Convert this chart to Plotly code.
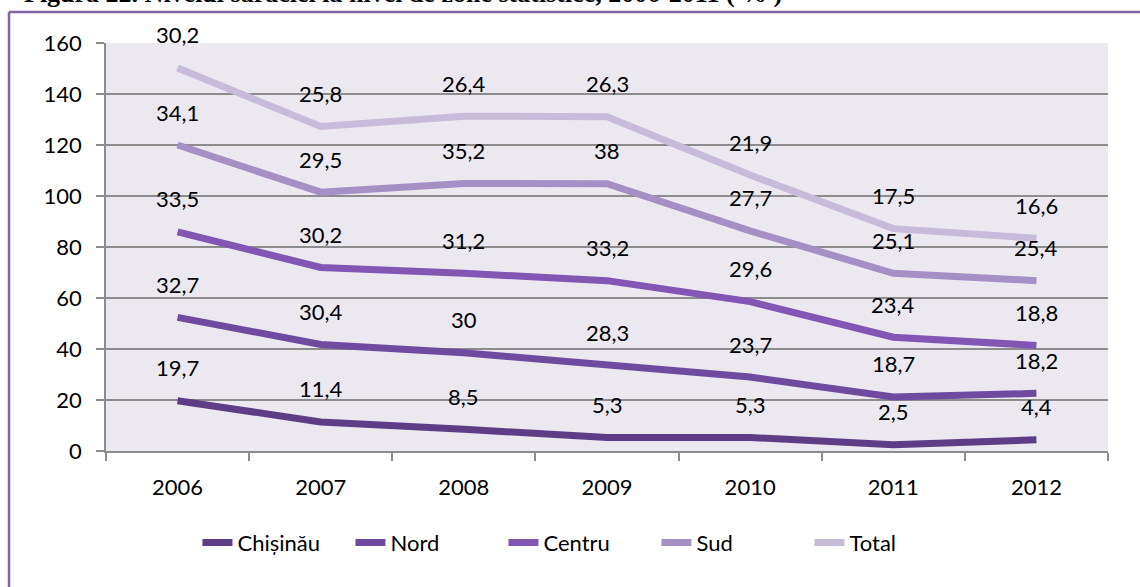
import plotly.graph_objects as go

years = ["2006", "2007", "2008", "2009", "2010", "2011", "2012"]
chisinau = [19.7, 11.4, 8.5, 5.3, 5.3, 2.5, 4.4]
nord = [32.7, 30.4, 30, 28.3, 23.7, 18.7, 18.2]
centru = [33.5, 30.2, 31.2, 33.2, 29.6, 23.4, 18.8]
sud = [34.1, 29.5, 35.2, 38, 27.7, 25.1, 25.4]
total = [30.2, 25.8, 26.4, 26.3, 21.9, 17.5, 16.6]

series = [
    ("Chișinău", chisinau, "#5E3D87"),
    ("Nord", nord, "#6F4B9F"),
    ("Centru", centru, "#8256B3"),
    ("Sud", sud, "#A590C6"),
    ("Total", total, "#C8BBDA"),
]

FONT = "Lato, 'Open Sans', sans-serif"

fig = go.Figure()
annotations = []
cum = [0.0] * len(years)
for name, vals, color in series:
    cum = [c + v for c, v in zip(cum, vals)]
    fig.add_trace(go.Scatter(
        x=years, y=vals, name=name, mode="lines", stackgroup="one",
        fill="none", line=dict(color=color, width=7),
        hoverinfo="x+y+name",
    ))
    for i, (c, v) in enumerate(zip(cum, vals)):
        txt = ("%g" % v).replace(".", ",")
        annotations.append(dict(
            x=i, y=c, xref="x", yref="y", text=txt, showarrow=False,
            yanchor="middle", yshift=33,
            font=dict(family=FONT, size=22, color="#000000"),
        ))

annotations.append(dict(
    x=-0.084, y=1.080, xref="paper", yref="paper", xanchor="left", yanchor="bottom",
    text="<b>Figura 22. Nivelul sărăciei la nivel de zone statistice, 2006-2011 ( % )</b>",
    showarrow=False,
    font=dict(family="'Liberation Serif', 'Times New Roman', serif", size=26, color="#000000"),
))

shapes = [
    dict(type="line", xref="paper", yref="paper", x0=-0.0968, x1=1.04, y0=1.076, y1=1.076,
         line=dict(color="#8064A2", width=2.5)),
    dict(type="line", xref="paper", yref="paper", x0=-0.0968, x1=-0.0968, y0=1.076, y1=-0.4,
         line=dict(color="#8064A2", width=2.5)),
]

fig.update_layout(
    width=1140, height=587,
    margin=dict(l=106, r=32, t=43, b=136),
    paper_bgcolor="#FFFFFF",
    plot_bgcolor="#EBE8EF",
    showlegend=True,
    legend=dict(
        orientation="h", x=0.473, xanchor="center", y=-0.225, yanchor="middle",
        font=dict(family=FONT, size=22, color="#000000"),
        traceorder="normal", itemwidth=30,
        entrywidth=108, entrywidthmode="pixels",
    ),
    annotations=annotations,
    shapes=shapes,
    xaxis=dict(
        type="category", range=[-0.5, 6.5], showgrid=False,
        showline=True, linecolor="#8C8C8C", linewidth=1.5,
        ticks="outside", ticklen=8, tickcolor="#8C8C8C", tickwidth=1.5,
        tickson="boundaries", ticklabelstandoff=16,
        tickfont=dict(family=FONT, size=22, color="#000000"),
    ),
    yaxis=dict(
        range=[0, 160], dtick=20, tick0=0,
        showgrid=True, gridcolor="#8C8C8C", gridwidth=1.5,
        showline=True, linecolor="#8C8C8C", linewidth=1.5,
        ticks="outside", ticklen=8, tickcolor="#8C8C8C", tickwidth=1.5,
        ticklabelstandoff=10, zeroline=False,
        tickfont=dict(family=FONT, size=22, color="#000000"),
    ),
)

fig.write_html(
    "out.html",
    config={"displayModeBar": False},
    post_script="document.body.style.margin='0';document.body.style.overflow='hidden';",
)
